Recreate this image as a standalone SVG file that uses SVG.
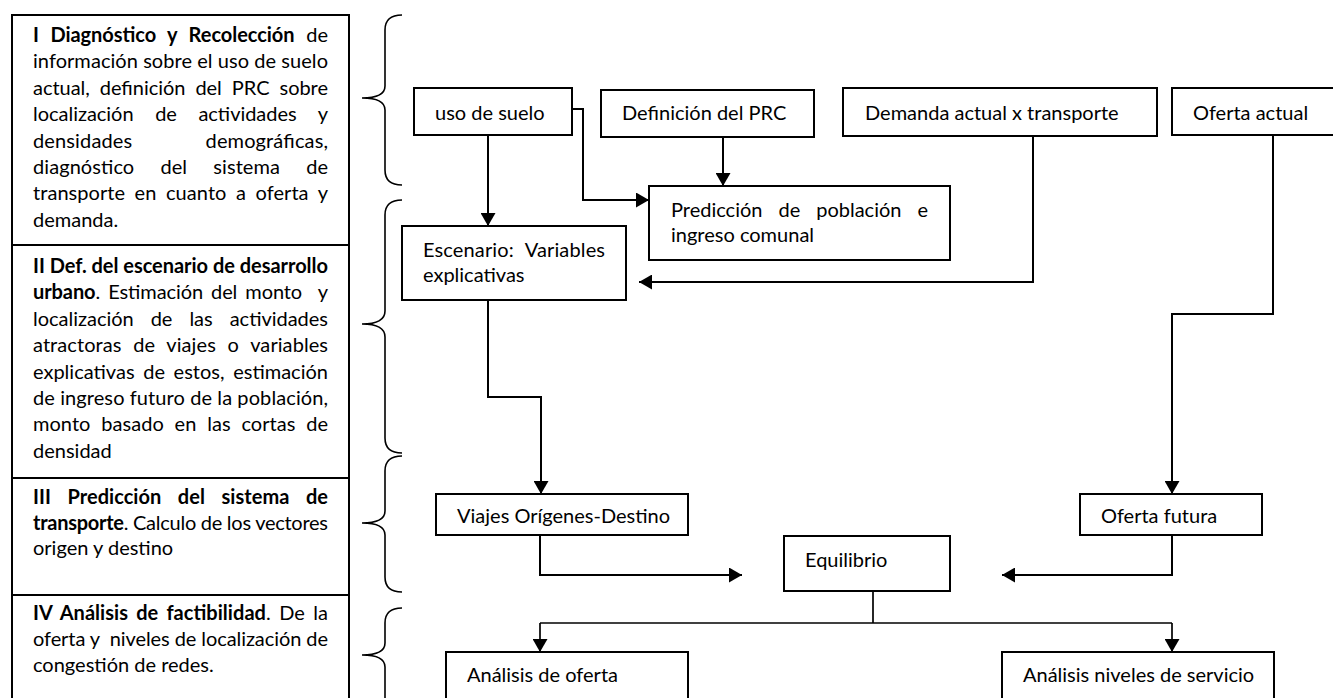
<svg xmlns="http://www.w3.org/2000/svg" width="1333" height="698" viewBox="0 0 1333 698">
<style>
  .box { fill: #ffffff; stroke: #000000; stroke-width: 2; }
  .t { font-family: Lato, "Open Sans", "Liberation Sans", sans-serif; font-size: 20px; fill: #000000; }
  .b { font-weight: bold; }
  .conn { fill: none; stroke: #000000; stroke-width: 2; }
  .thin { fill: none; stroke: #000000; stroke-width: 1.7; }
  .brace { fill: none; stroke: #000000; stroke-width: 1.6; }
</style>
<defs>
  <marker id="arr" markerUnits="userSpaceOnUse" markerWidth="14" markerHeight="15" refX="13" refY="7.5" orient="auto">
    <path d="M0,0 L13,7.5 L0,15 z" fill="#000000"/>
  </marker>
</defs>
<rect width="1333" height="698" fill="#ffffff"/>

<g id="left-panel">
  <rect class="box" x="12" y="15" width="337" height="700"/>
  <line x1="12" y1="245" x2="349" y2="245" stroke="#000" stroke-width="2"/>
  <line x1="12" y1="478" x2="349" y2="478" stroke="#000" stroke-width="2"/>
  <line x1="12" y1="595" x2="349" y2="595" stroke="#000" stroke-width="2"/>
</g>

<g id="stage-1">
  <text class="t" x="33" y="42" textLength="295" lengthAdjust="spacing" style="word-spacing:6.7px"><tspan class="b">I Diagnóstico y Recolección</tspan> de</text>
  <text class="t" x="33" y="68.4" textLength="295" lengthAdjust="spacing">información sobre el uso de suelo</text>
  <text class="t" x="33" y="94.8" textLength="295" lengthAdjust="spacing" style="word-spacing:5px">actual, definición del PRC sobre</text>
  <text class="t" x="33" y="121.2" textLength="295" lengthAdjust="spacing" style="word-spacing:16.5px">localización de actividades y</text>
  <text class="t" x="33" y="147.6" textLength="295" lengthAdjust="spacing" style="word-spacing:68px">densidades demográficas,</text>
  <text class="t" x="33" y="174" textLength="295" lengthAdjust="spacing" style="word-spacing:21px">diagnóstico del sistema de</text>
  <text class="t" x="33" y="200.4" textLength="295" lengthAdjust="spacing" style="word-spacing:4.4px">transporte en cuanto a oferta y</text>
  <text class="t" x="33" y="226.8">demanda.</text>
</g>

<g id="stage-2">
  <text class="t" x="33" y="273" textLength="295" lengthAdjust="spacing"><tspan class="b">II Def. del escenario de desarrollo</tspan></text>
  <text class="t" x="33" y="299.4" textLength="295" lengthAdjust="spacing" style="word-spacing:3px"><tspan class="b">urbano</tspan>. Estimación del monto&#160; y</text>
  <text class="t" x="33" y="325.8" textLength="295" lengthAdjust="spacing" style="word-spacing:11.9px">localización de las actividades</text>
  <text class="t" x="33" y="352.2" textLength="295" lengthAdjust="spacing" style="word-spacing:6.5px">atractoras de viajes o variables</text>
  <text class="t" x="33" y="378.6" textLength="295" lengthAdjust="spacing" style="word-spacing:3.5px">explicativas de estos, estimación</text>
  <text class="t" x="33" y="405" textLength="295" lengthAdjust="spacing">de ingreso futuro de la población,</text>
  <text class="t" x="33" y="431.4" textLength="295" lengthAdjust="spacing" style="word-spacing:5.6px">monto basado en las cortas de</text>
  <text class="t" x="33" y="457.8">densidad</text>
</g>

<g id="stage-3">
  <text class="t" x="33" y="504" textLength="295" lengthAdjust="spacing" style="word-spacing:11.6px"><tspan class="b">III Predicción del sistema de</tspan></text>
  <text class="t" x="33" y="529.5" textLength="295" lengthAdjust="spacing"><tspan class="b">transporte</tspan>. Calculo de los vectores</text>
  <text class="t" x="33" y="555">origen y destino</text>
</g>

<g id="stage-4">
  <text class="t" x="33" y="620" textLength="295" lengthAdjust="spacing" style="word-spacing:3.3px"><tspan class="b">IV Análisis de factibilidad</tspan>. De la</text>
  <text class="t" x="33" y="646" textLength="295" lengthAdjust="spacing">oferta y&#160; niveles de localización de</text>
  <text class="t" x="33" y="672">congestión de redes.</text>
</g>

<g id="braces">
  <path class="brace" d="M402,15 Q385,15 385,30 V86 Q385,98 362,98 Q385,98 385,110 V170 Q385,185 402,185"/>
  <path class="brace" d="M402,200 Q385,200 385,215 V311 Q385,324 362,324 Q385,324 385,337 V438 Q385,453 402,453"/>
  <path class="brace" d="M402,456 Q385,456 385,471 V511 Q385,523 362,523 Q385,523 385,535 V577 Q385,592 402,592"/>
  <path class="brace" d="M402,608 Q385,608 385,623 V643 Q385,655 362,655 Q385,655 385,667 V710"/>
</g>

<g id="connectors">
  <path class="conn" d="M488,135 V226" marker-end="url(#arr)"/>
  <path class="conn" d="M572,109 H583 V200 H649" marker-end="url(#arr)"/>
  <path class="conn" d="M723,137 V186" marker-end="url(#arr)"/>
  <path class="conn" d="M1033,136 V282 H639" marker-end="url(#arr)"/>
  <path class="conn" d="M488,300 V397 H541 V494" marker-end="url(#arr)"/>
  <path class="conn" d="M1273,136 V314 H1172 V494" marker-end="url(#arr)"/>
  <path class="conn" d="M540,535 V575 H742" marker-end="url(#arr)"/>
  <path class="conn" d="M1172,535 V575 H1002" marker-end="url(#arr)"/>
  <path class="thin" d="M873,591 V623"/>
  <path class="thin" d="M540,623 H1172"/>
  <path class="thin" d="M540,623 V652" marker-end="url(#arr)"/>
  <path class="thin" d="M1172,623 V652" marker-end="url(#arr)"/>
</g>

<g id="uso-de-suelo">
  <rect class="box" x="414" y="88" width="158" height="47"/>
  <text class="t" x="435" y="120">uso de suelo</text>
</g>
<g id="definicion-prc">
  <rect class="box" x="601" y="90" width="213" height="47"/>
  <text class="t" x="622" y="120">Definición del PRC</text>
</g>
<g id="demanda-actual">
  <rect class="box" x="843" y="88" width="314" height="48"/>
  <text class="t" x="865" y="120">Demanda actual x transporte</text>
</g>
<g id="oferta-actual">
  <rect class="box" x="1172" y="88" width="175" height="47"/>
  <text class="t" x="1193" y="120">Oferta actual</text>
</g>
<g id="prediccion-poblacion">
  <rect class="box" x="649" y="186" width="301" height="74"/>
  <text class="t" x="671" y="217" textLength="257" lengthAdjust="spacing" style="word-spacing:10.9px">Predicción de población e</text>
  <text class="t" x="671" y="242">ingreso comunal</text>
</g>
<g id="escenario">
  <rect class="box" x="402" y="226" width="224" height="74"/>
  <text class="t" x="423" y="257" textLength="182" lengthAdjust="spacing" style="word-spacing:6.3px">Escenario: Variables</text>
  <text class="t" x="423" y="282">explicativas</text>
</g>
<g id="viajes-od">
  <rect class="box" x="436" y="494" width="252" height="41"/>
  <text class="t" x="457" y="523">Viajes Orígenes-Destino</text>
</g>
<g id="oferta-futura">
  <rect class="box" x="1080" y="494" width="182" height="41"/>
  <text class="t" x="1101" y="523">Oferta futura</text>
</g>
<g id="equilibrio">
  <rect class="box" x="784" y="536" width="166" height="55"/>
  <text class="t" x="805" y="567">Equilibrio</text>
</g>
<g id="analisis-oferta">
  <rect class="box" x="446" y="652" width="242" height="60"/>
  <text class="t" x="467" y="682">Análisis de oferta</text>
</g>
<g id="analisis-niveles">
  <rect class="box" x="1002" y="652" width="272" height="60"/>
  <text class="t" x="1023" y="682">Análisis niveles de servicio</text>
</g>
</svg>
